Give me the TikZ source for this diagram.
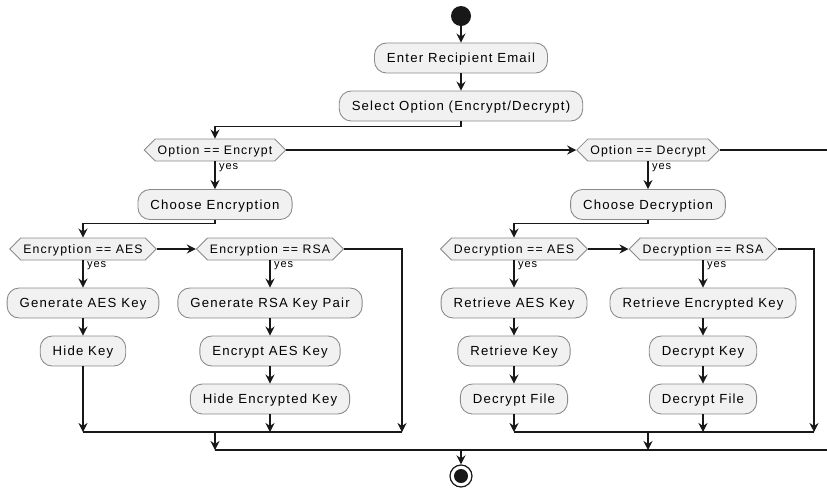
\documentclass[tikz,border=0pt]{standalone}
\usepackage{fontspec}
\setmainfont{Liberation Sans}[LetterSpace=9]
\usetikzlibrary{arrows.meta,shapes.symbols}
\definecolor{caixa}{HTML}{F1F1F1}
\definecolor{borda}{HTML}{8A8A8A}
\definecolor{seta}{HTML}{181818}

\begin{document}
\begin{tikzpicture}[x=0.02cm, y=-0.02cm, > = {Stealth[length=5.2pt,width=5.2pt,inset=1.8pt]}]
  % Estilos
  \tikzstyle{acao}=[rectangle, rounded corners=0.24cm, draw=borda, fill=caixa, line width=0.5pt, minimum height=0.6cm, inner xsep=0.25cm, text height=5.4pt, text depth=0pt, font=\fontsize{7.5}{9}\selectfont]
  \tikzstyle{decisao}=[signal, signal to=west and east, draw=borda, fill=caixa, line width=0.5pt, minimum height=0.44cm, inner xsep=0.05cm, inner ysep=0pt, text height=5pt, text depth=0pt, font=\fontsize{7}{8}\selectfont]
  \tikzstyle{fluxo}=[->, draw=seta, line width=0.6pt]
  \tikzstyle{sim}=[right, inner sep=2pt, font=\fontsize{6.3}{7}\selectfont]

  \useasboundingbox (0,0) rectangle (827,488);

  % Nós
  \node[circle, fill=seta, minimum size=0.4cm, inner sep=0pt] (inicio) at (461,16) {};
  \node[acao] (email) at (461,58) {Enter Recipient Email};
  \node[acao] (opcao) at (461,106) {Select Option (Encrypt/Decrypt)};
  \node[decisao] (optE) at (215,150) {Option == Encrypt};
  \node[decisao] (optD) at (648,150) {Option == Decrypt};
  \node[acao] (escE) at (215,204.5) {Choose Encryption};
  \node[acao] (escD) at (648,204.5) {Choose Decryption};

  \node[decisao] (encA) at (83,249) {Encryption == AES};
  \node[decisao] (encR) at (270,249) {Encryption == RSA};
  \node[acao] (genA) at (83,303) {Generate AES Key};
  \node[acao] (hideK) at (83,351) {Hide Key};
  \node[acao] (genR) at (270,303) {Generate RSA Key Pair};
  \node[acao] (encK) at (270,351) {Encrypt AES Key};
  \node[acao] (hideE) at (270,399) {Hide Encrypted Key};

  \node[decisao] (decA) at (514,249) {Decryption == AES};
  \node[decisao] (decR) at (703,249) {Decryption == RSA};
  \node[acao] (retA) at (514,303) {Retrieve AES Key};
  \node[acao] (retK) at (514,351) {Retrieve Key};
  \node[acao] (arqA) at (514,399) {Decrypt File};
  \node[acao] (retE) at (703,303) {Retrieve Encrypted Key};
  \node[acao] (decK) at (703,351) {Decrypt Key};
  \node[acao] (arqR) at (703,399) {Decrypt File};

  \node[circle, draw=seta, line width=0.7pt, minimum size=0.44cm, inner sep=0pt] (fim) at (461,476) {};
  \fill[seta] (fim.center) circle (0.14cm);

  % Pontos de junção
  \coordinate (cE) at (402,432);
  \coordinate (cD) at (814,432);
  \coordinate (jE) at (215,432);
  \coordinate (jD) at (648,432);
  \coordinate (borda1) at (827,150);
  \coordinate (borda2) at (827,450);

  % Arestas
  \draw[fluxo] (inicio) -- (email);
  \draw[fluxo] (email) -- (opcao);
  \draw[fluxo] (opcao.south) -- ++(0,4.7) -| (optE.north);
  \draw[fluxo] (optE.east) -- (optD.west);
  \draw[seta, line width=0.6pt] (optD.east) -- (borda1);
  \draw[fluxo] (optE.south) -- node[sim, pos=0.22] {yes} (escE.north);
  \draw[fluxo] (optD.south) -- node[sim, pos=0.22] {yes} (escD.north);

  \draw[fluxo] (escE.south) -- ++(0,4) -| (encA.north);
  \draw[fluxo] (encA.east) -- (encR.west);
  \draw[fluxo] (encR.east) -| (cE);
  \draw[fluxo] (encA.south) -- node[sim, pos=0.2] {yes} (genA.north);
  \draw[fluxo] (genA) -- (hideK);
  \draw[fluxo] (hideK) -- (hideK |- cE);
  \draw[fluxo] (encR.south) -- node[sim, pos=0.2] {yes} (genR.north);
  \draw[fluxo] (genR) -- (encK);
  \draw[fluxo] (encK) -- (hideE);
  \draw[fluxo] (hideE) -- (hideE |- cE);
  \draw[seta, line width=0.6pt] (hideK |- cE) -- (cE);

  \draw[fluxo] (escD.south) -- ++(0,4) -| (decA.north);
  \draw[fluxo] (decA.east) -- (decR.west);
  \draw[fluxo] (decR.east) -| (cD);
  \draw[fluxo] (decA.south) -- node[sim, pos=0.2] {yes} (retA.north);
  \draw[fluxo] (retA) -- (retK);
  \draw[fluxo] (retK) -- (arqA);
  \draw[fluxo] (arqA) -- (arqA |- cD);
  \draw[fluxo] (decR.south) -- node[sim, pos=0.2] {yes} (retE.north);
  \draw[fluxo] (retE) -- (decK);
  \draw[fluxo] (decK) -- (arqR);
  \draw[fluxo] (arqR) -- (arqR |- cD);
  \draw[seta, line width=0.6pt] (arqA |- cD) -- (cD);

  \draw[fluxo] (jE) -- (jE |- borda2);
  \draw[fluxo] (jD) -- (jD |- borda2);
  \draw[seta, line width=0.6pt] (jE |- borda2) -- (borda2);
  \draw[fluxo] (fim |- borda2) -- (fim);
\end{tikzpicture}
\end{document}
